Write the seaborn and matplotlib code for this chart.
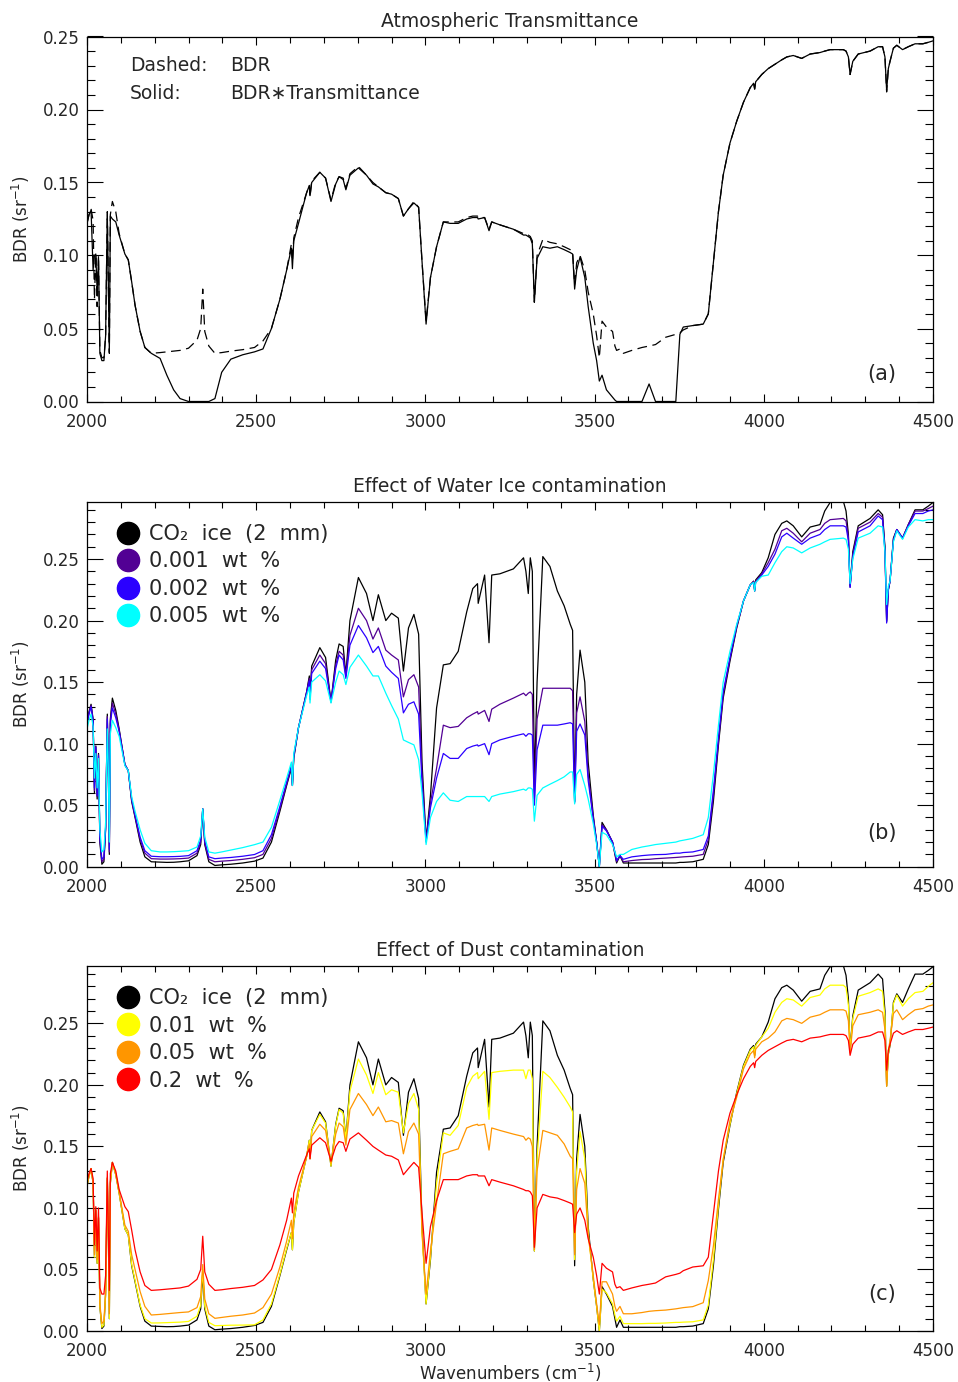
import matplotlib
matplotlib.use("Agg")
import matplotlib.pyplot as plt
import seaborn as sns
from matplotlib.lines import Line2D
from matplotlib.ticker import MultipleLocator, FormatStrFormatter

# ---------------- data ----------------
wavenumber = [
    2000, 2006, 2012, 2018, 2022, 2026, 2030, 2034, 2038, 2044,
    2050, 2055, 2060, 2063, 2066, 2069, 2075, 2085, 2095, 2112,
    2122, 2132, 2142, 2157, 2171, 2190, 2216, 2236, 2256, 2275,
    2300, 2325, 2336, 2342, 2348, 2360, 2378, 2398, 2425, 2460,
    2495, 2520, 2545, 2570, 2590, 2604, 2607, 2611, 2625, 2649,
    2657, 2659, 2664, 2688, 2705, 2721, 2735, 2745, 2757, 2765,
    2777, 2802, 2826, 2845, 2861, 2883, 2900, 2920, 2935, 2950,
    2966, 2980, 2990, 3002, 3015, 3033, 3053, 3073, 3097, 3122,
    3140, 3154, 3156, 3175, 3188, 3196, 3220, 3260, 3290, 3297,
    3304, 3310, 3316, 3322, 3330, 3347, 3368, 3390, 3410, 3428,
    3435, 3441, 3447, 3457, 3471, 3481, 3496, 3506, 3514, 3522,
    3535, 3553, 3560, 3565, 3575, 3585, 3610, 3640, 3661, 3680,
    3710, 3740, 3752, 3762, 3790, 3821, 3836, 3851, 3866, 3880,
    3900, 3920, 3940, 3960, 3970, 3973, 3976, 3994, 4013, 4033,
    4053, 4068, 4087, 4112, 4137, 4166, 4180, 4196, 4235, 4243,
    4250, 4255, 4263, 4279, 4314, 4338, 4351, 4358, 4363, 4368,
    4373, 4383, 4393, 4410, 4427, 4447, 4470, 4486, 4500]

co2_ice = [
    0.118, 0.126, 0.132, 0.120, 0.060, 0.098, 0.055, 0.092, 0.020, 0.002,
    0.004, 0.030, 0.124, 0.080, 0.010, 0.120, 0.137, 0.127, 0.112, 0.083,
    0.078, 0.053, 0.040, 0.020, 0.008, 0.004, 0.0037, 0.0035, 0.0036, 0.004,
    0.0048, 0.009, 0.018, 0.047, 0.018, 0.004, 0.001, 0.0015, 0.002, 0.003,
    0.0045, 0.007, 0.020, 0.045, 0.066, 0.080, 0.066, 0.088, 0.113, 0.142,
    0.155, 0.140, 0.163, 0.178, 0.170, 0.134, 0.168, 0.181, 0.179, 0.156,
    0.200, 0.235, 0.222, 0.200, 0.221, 0.200, 0.206, 0.202, 0.159, 0.194,
    0.205, 0.189, 0.085, 0.022, 0.058, 0.129, 0.164, 0.165, 0.175, 0.207,
    0.226, 0.230, 0.214, 0.237, 0.182, 0.237, 0.238, 0.242, 0.251, 0.240,
    0.222, 0.251, 0.240, 0.065, 0.150, 0.252, 0.244, 0.224, 0.212, 0.197,
    0.192, 0.053, 0.140, 0.176, 0.150, 0.085, 0.042, 0.020, 0.000, 0.036,
    0.030, 0.020, 0.010, 0.003, 0.009, 0.003, 0.003, 0.003, 0.003, 0.003,
    0.003, 0.003, 0.0035, 0.0035, 0.004, 0.006, 0.018, 0.053, 0.099, 0.137,
    0.167, 0.194, 0.216, 0.229, 0.232, 0.224, 0.233, 0.239, 0.251, 0.270,
    0.279, 0.281, 0.277, 0.268, 0.276, 0.278, 0.289, 0.296, 0.297, 0.289,
    0.270, 0.228, 0.256, 0.277, 0.283, 0.290, 0.286, 0.260, 0.199, 0.225,
    0.232, 0.267, 0.274, 0.267, 0.278, 0.290, 0.290, 0.293, 0.296]

water_0001 = [
    0.117, 0.125, 0.131, 0.119, 0.062, 0.098, 0.057, 0.091, 0.022, 0.004,
    0.006, 0.031, 0.122, 0.080, 0.012, 0.118, 0.133, 0.124, 0.111, 0.083,
    0.078, 0.054, 0.041, 0.022, 0.011, 0.0065, 0.0062, 0.0062, 0.0063, 0.0065,
    0.0070, 0.011, 0.020, 0.047, 0.019, 0.006, 0.004, 0.0045, 0.005, 0.006,
    0.0073, 0.010, 0.023, 0.047, 0.067, 0.081, 0.066, 0.089, 0.113, 0.142,
    0.153, 0.138, 0.160, 0.172, 0.165, 0.134, 0.164, 0.175, 0.172, 0.155,
    0.188, 0.210, 0.200, 0.185, 0.194, 0.176, 0.172, 0.168, 0.138, 0.152,
    0.156, 0.146, 0.075, 0.021, 0.052, 0.080, 0.115, 0.113, 0.114, 0.121,
    0.124, 0.126, 0.124, 0.127, 0.118, 0.128, 0.132, 0.137, 0.141, 0.139,
    0.141, 0.142, 0.140, 0.055, 0.120, 0.145, 0.145, 0.145, 0.145, 0.145,
    0.143, 0.053, 0.125, 0.138, 0.118, 0.075, 0.040, 0.020, 0.000, 0.034,
    0.030, 0.020, 0.011, 0.004, 0.009, 0.004, 0.005, 0.0058, 0.006, 0.0065,
    0.007, 0.0075, 0.0078, 0.008, 0.0085, 0.010, 0.022, 0.058, 0.102, 0.140,
    0.169, 0.195, 0.216, 0.229, 0.232, 0.225, 0.232, 0.238, 0.247, 0.258,
    0.273, 0.275, 0.271, 0.264, 0.271, 0.274, 0.279, 0.282, 0.283, 0.281,
    0.268, 0.227, 0.254, 0.275, 0.280, 0.287, 0.284, 0.258, 0.200, 0.225,
    0.232, 0.266, 0.274, 0.267, 0.278, 0.289, 0.289, 0.291, 0.293]

water_0002 = [
    0.116, 0.124, 0.130, 0.118, 0.064, 0.097, 0.058, 0.090, 0.024, 0.006,
    0.008, 0.032, 0.120, 0.080, 0.014, 0.116, 0.129, 0.121, 0.110, 0.083,
    0.078, 0.055, 0.042, 0.024, 0.013, 0.0085, 0.0081, 0.0081, 0.0082, 0.0084,
    0.009, 0.013, 0.022, 0.047, 0.021, 0.008, 0.0065, 0.007, 0.0075, 0.0085,
    0.0099, 0.013, 0.026, 0.049, 0.069, 0.082, 0.066, 0.090, 0.113, 0.141,
    0.151, 0.136, 0.157, 0.167, 0.161, 0.134, 0.161, 0.172, 0.168, 0.153,
    0.180, 0.196, 0.186, 0.174, 0.179, 0.163, 0.158, 0.153, 0.125, 0.132,
    0.134, 0.124, 0.068, 0.020, 0.048, 0.072, 0.092, 0.088, 0.088, 0.096,
    0.098, 0.099, 0.098, 0.100, 0.091, 0.100, 0.103, 0.106, 0.108, 0.106,
    0.108, 0.108, 0.107, 0.050, 0.095, 0.115, 0.115, 0.115, 0.116, 0.117,
    0.116, 0.052, 0.110, 0.116, 0.107, 0.070, 0.039, 0.020, 0.000, 0.033,
    0.029, 0.020, 0.012, 0.005, 0.009, 0.006, 0.008, 0.009, 0.0095, 0.0098,
    0.010, 0.011, 0.011, 0.0115, 0.012, 0.014, 0.025, 0.062, 0.105, 0.142,
    0.170, 0.196, 0.216, 0.229, 0.231, 0.224, 0.231, 0.237, 0.244, 0.254,
    0.268, 0.271, 0.267, 0.262, 0.267, 0.270, 0.274, 0.277, 0.277, 0.276,
    0.265, 0.227, 0.252, 0.272, 0.277, 0.285, 0.282, 0.256, 0.198, 0.225,
    0.232, 0.265, 0.274, 0.267, 0.277, 0.287, 0.287, 0.289, 0.290]

water_0005 = [
    0.112, 0.119, 0.124, 0.114, 0.072, 0.092, 0.064, 0.088, 0.030, 0.012,
    0.014, 0.036, 0.112, 0.080, 0.020, 0.108, 0.119, 0.113, 0.106, 0.082,
    0.078, 0.057, 0.045, 0.030, 0.019, 0.013, 0.012, 0.012, 0.0122, 0.0125,
    0.013, 0.016, 0.025, 0.047, 0.024, 0.012, 0.011, 0.012, 0.0135, 0.0155,
    0.0179, 0.020, 0.032, 0.054, 0.072, 0.085, 0.066, 0.092, 0.113, 0.139,
    0.146, 0.133, 0.150, 0.156, 0.151, 0.133, 0.150, 0.159, 0.156, 0.148,
    0.162, 0.172, 0.163, 0.155, 0.155, 0.141, 0.131, 0.120, 0.103, 0.101,
    0.099, 0.087, 0.060, 0.018, 0.040, 0.053, 0.060, 0.054, 0.053, 0.057,
    0.057, 0.057, 0.057, 0.057, 0.053, 0.057, 0.059, 0.061, 0.063, 0.062,
    0.064, 0.064, 0.063, 0.037, 0.058, 0.064, 0.067, 0.070, 0.073, 0.077,
    0.077, 0.051, 0.075, 0.079, 0.066, 0.055, 0.035, 0.018, 0.000, 0.028,
    0.026, 0.018, 0.012, 0.008, 0.010, 0.010, 0.014, 0.016, 0.017, 0.018,
    0.019, 0.020, 0.021, 0.0215, 0.023, 0.026, 0.040, 0.075, 0.115, 0.150,
    0.175, 0.197, 0.216, 0.229, 0.231, 0.224, 0.231, 0.236, 0.237, 0.247,
    0.256, 0.260, 0.259, 0.255, 0.259, 0.262, 0.264, 0.266, 0.267, 0.266,
    0.258, 0.230, 0.250, 0.267, 0.271, 0.277, 0.276, 0.256, 0.213, 0.228,
    0.232, 0.264, 0.273, 0.266, 0.276, 0.282, 0.281, 0.282, 0.282]

dust_001 = [
    0.118, 0.126, 0.132, 0.120, 0.060, 0.098, 0.055, 0.092, 0.020, 0.003,
    0.005, 0.030, 0.124, 0.080, 0.010, 0.120, 0.137, 0.127, 0.112, 0.083,
    0.078, 0.054, 0.041, 0.021, 0.010, 0.0065, 0.0066, 0.0068, 0.007, 0.0072,
    0.0078, 0.012, 0.021, 0.050, 0.020, 0.007, 0.0043, 0.0045, 0.0047, 0.0048,
    0.005, 0.009, 0.022, 0.046, 0.067, 0.080, 0.066, 0.088, 0.113, 0.142,
    0.155, 0.140, 0.163, 0.176, 0.169, 0.134, 0.167, 0.180, 0.177, 0.156,
    0.195, 0.221, 0.208, 0.193, 0.210, 0.192, 0.196, 0.194, 0.161, 0.185,
    0.193, 0.180, 0.080, 0.022, 0.060, 0.120, 0.161, 0.159, 0.167, 0.198,
    0.207, 0.210, 0.205, 0.211, 0.172, 0.210, 0.211, 0.212, 0.212, 0.205,
    0.212, 0.212, 0.205, 0.065, 0.140, 0.211, 0.206, 0.198, 0.190, 0.182,
    0.178, 0.058, 0.130, 0.162, 0.140, 0.080, 0.042, 0.020, 0.000, 0.034,
    0.031, 0.022, 0.013, 0.008, 0.012, 0.006, 0.006, 0.006, 0.0062, 0.0062,
    0.0065, 0.007, 0.007, 0.0072, 0.0075, 0.009, 0.021, 0.058, 0.102, 0.140,
    0.168, 0.193, 0.215, 0.228, 0.231, 0.224, 0.232, 0.239, 0.246, 0.259,
    0.267, 0.270, 0.269, 0.264, 0.271, 0.273, 0.278, 0.281, 0.281, 0.279,
    0.265, 0.228, 0.254, 0.272, 0.275, 0.278, 0.276, 0.255, 0.199, 0.225,
    0.233, 0.266, 0.273, 0.264, 0.270, 0.275, 0.276, 0.280, 0.283]

dust_005 = [
    0.118, 0.126, 0.132, 0.121, 0.062, 0.098, 0.058, 0.093, 0.022, 0.006,
    0.008, 0.033, 0.125, 0.080, 0.014, 0.122, 0.137, 0.128, 0.113, 0.086,
    0.081, 0.062, 0.050, 0.032, 0.020, 0.013, 0.0135, 0.014, 0.0145, 0.015,
    0.0155, 0.019, 0.028, 0.054, 0.026, 0.014, 0.0103, 0.011, 0.012, 0.013,
    0.0146, 0.019, 0.030, 0.052, 0.073, 0.090, 0.075, 0.096, 0.117, 0.142,
    0.152, 0.140, 0.158, 0.168, 0.163, 0.136, 0.160, 0.169, 0.166, 0.151,
    0.180, 0.193, 0.184, 0.175, 0.182, 0.170, 0.171, 0.169, 0.144, 0.162,
    0.169, 0.160, 0.080, 0.030, 0.065, 0.104, 0.144, 0.146, 0.148, 0.165,
    0.167, 0.168, 0.167, 0.168, 0.147, 0.165, 0.163, 0.160, 0.158, 0.155,
    0.157, 0.156, 0.150, 0.066, 0.130, 0.163, 0.161, 0.159, 0.152, 0.142,
    0.140, 0.062, 0.115, 0.132, 0.120, 0.078, 0.045, 0.022, 0.005, 0.040,
    0.040, 0.030, 0.020, 0.016, 0.020, 0.014, 0.014, 0.015, 0.016, 0.0165,
    0.017, 0.018, 0.0185, 0.019, 0.0198, 0.023, 0.041, 0.069, 0.107, 0.139,
    0.171, 0.190, 0.213, 0.225, 0.228, 0.222, 0.229, 0.235, 0.238, 0.243,
    0.252, 0.254, 0.253, 0.250, 0.255, 0.257, 0.259, 0.261, 0.261, 0.260,
    0.252, 0.226, 0.248, 0.257, 0.259, 0.261, 0.259, 0.245, 0.199, 0.228,
    0.236, 0.258, 0.261, 0.253, 0.257, 0.261, 0.262, 0.264, 0.265]

dust_02 = [
    0.122, 0.128, 0.132, 0.124, 0.070, 0.101, 0.065, 0.100, 0.035, 0.030,
    0.030, 0.045, 0.130, 0.080, 0.033, 0.128, 0.137, 0.130, 0.115, 0.101,
    0.097, 0.082, 0.066, 0.048, 0.037, 0.033, 0.0335, 0.034, 0.0345, 0.035,
    0.0365, 0.042, 0.050, 0.077, 0.048, 0.038, 0.033, 0.0335, 0.0345, 0.0355,
    0.037, 0.0415, 0.050, 0.070, 0.090, 0.108, 0.096, 0.112, 0.126, 0.143,
    0.148, 0.140, 0.151, 0.157, 0.153, 0.138, 0.150, 0.154, 0.153, 0.146,
    0.156, 0.161, 0.155, 0.150, 0.147, 0.143, 0.142, 0.139, 0.127, 0.132,
    0.137, 0.133, 0.096, 0.055, 0.085, 0.106, 0.123, 0.123, 0.123, 0.126,
    0.127, 0.127, 0.126, 0.126, 0.118, 0.123, 0.121, 0.118, 0.115, 0.114,
    0.114, 0.113, 0.110, 0.068, 0.100, 0.111, 0.109, 0.108, 0.106, 0.104,
    0.103, 0.080, 0.095, 0.100, 0.090, 0.075, 0.060, 0.045, 0.030, 0.055,
    0.051, 0.048, 0.038, 0.035, 0.036, 0.033, 0.035, 0.037, 0.038, 0.039,
    0.044, 0.046, 0.047, 0.049, 0.052, 0.053, 0.060, 0.095, 0.130, 0.155,
    0.177, 0.192, 0.205, 0.215, 0.218, 0.214, 0.219, 0.224, 0.228, 0.231,
    0.234, 0.236, 0.237, 0.235, 0.238, 0.239, 0.240, 0.241, 0.241, 0.240,
    0.236, 0.224, 0.233, 0.238, 0.240, 0.243, 0.243, 0.236, 0.212, 0.228,
    0.233, 0.242, 0.244, 0.241, 0.243, 0.245, 0.245, 0.246, 0.247]

# BDR * atmospheric transmittance (solid line of panel a)
bdr_x_trans = [
    0.122, 0.128, 0.131, 0.090, 0.100, 0.101, 0.075, 0.098, 0.033, 0.028,
    0.028, 0.045, 0.129, 0.080, 0.034, 0.127, 0.125, 0.123, 0.114, 0.101,
    0.097, 0.082, 0.066, 0.048, 0.037, 0.033, 0.0295, 0.018, 0.008, 0.002,
    0.0, 0.0, 0.0, 0.0, 0.0, 0.0, 0.002, 0.020, 0.029, 0.032,
    0.034, 0.036, 0.050, 0.070, 0.090, 0.105, 0.091, 0.110, 0.122, 0.143,
    0.148, 0.141, 0.150, 0.157, 0.153, 0.137, 0.149, 0.154, 0.152, 0.145,
    0.155, 0.160, 0.155, 0.149, 0.147, 0.143, 0.142, 0.139, 0.127, 0.132,
    0.136, 0.133, 0.096, 0.053, 0.085, 0.106, 0.123, 0.122, 0.122, 0.125,
    0.126, 0.126, 0.125, 0.126, 0.117, 0.123, 0.121, 0.118, 0.114, 0.114,
    0.113, 0.112, 0.108, 0.068, 0.098, 0.106, 0.105, 0.106, 0.104, 0.102,
    0.101, 0.077, 0.090, 0.099, 0.085, 0.065, 0.040, 0.028, 0.014, 0.018,
    0.008, 0.003, 0.001, 0.0, 0.0, 0.0, 0.0, 0.0, 0.012, 0.0,
    0.0, 0.0, 0.046, 0.051, 0.052, 0.053, 0.060, 0.095, 0.130, 0.155,
    0.177, 0.192, 0.205, 0.215, 0.218, 0.214, 0.219, 0.224, 0.228, 0.231,
    0.234, 0.236, 0.237, 0.235, 0.238, 0.239, 0.240, 0.241, 0.241, 0.240,
    0.236, 0.224, 0.233, 0.238, 0.240, 0.243, 0.243, 0.236, 0.213, 0.228,
    0.233, 0.242, 0.244, 0.241, 0.243, 0.245, 0.245, 0.246, 0.247]

water_labels = ["CO\u2082  ice  (2  mm)", "0.001  wt  %", "0.002  wt  %", "0.005  wt  %"]
dust_labels = ["CO\u2082  ice  (2  mm)", "0.01  wt  %", "0.05  wt  %", "0.2  wt  %"]
titles = ["Atmospheric Transmittance", "Effect of Water Ice contamination",
          "Effect of Dust contamination"]
panel_tags = ["(a)", "(b)", "(c)"]

water_colors = ["#000000", "#520094", "#2A00FF", "#00FFFF"]
dust_colors = ["#000000", "#FFFF00", "#FF9600", "#FF0000"]

for s in [co2_ice, water_0001, water_0002, water_0005, dust_001, dust_005, dust_02, bdr_x_trans]:
    assert len(s) == len(wavenumber), len(s)

# ---------------- figure ----------------
sns.set_style("white")
plt.rcParams["font.family"] = ["DejaVu Sans"]
plt.rcParams["lines.scale_dashes"] = False

W, H = 958, 1382
fig = plt.figure(figsize=(W / 100, H / 100), dpi=100)

left = 87 / W
width = 846 / W
hgt = 365 / H
bottoms = [1 - 401.5 / H, 1 - 866.7 / H, 1 - 1331 / H]
ytops = [0.25, 0.2966, 0.2966]

axes = [fig.add_axes([left, b, width, hgt]) for b in bottoms]


def style(ax, ytop, title, tag, tag_y):
    ax.set_xlim(2000, 4500)
    ax.set_ylim(0, ytop)
    ax.xaxis.set_major_locator(MultipleLocator(500))
    ax.xaxis.set_minor_locator(MultipleLocator(100))
    ax.yaxis.set_major_locator(MultipleLocator(0.05))
    ax.yaxis.set_minor_locator(MultipleLocator(0.01))
    ax.yaxis.set_major_formatter(FormatStrFormatter("%.2f"))
    ax.tick_params(which="both", direction="in", top=True, right=True,
                   bottom=True, left=True, color="black")
    ax.tick_params(axis="x", which="major", length=6, width=0.8, pad=8, labelsize=12)
    ax.tick_params(axis="x", which="minor", length=4, width=0.8)
    ax.tick_params(axis="y", which="major", length=11.5, width=0.8, pad=5, labelsize=12)
    ax.tick_params(axis="y", which="minor", length=6, width=0.8)
    for sp in ax.spines.values():
        sp.set_linewidth(0.9)
        sp.set_color("black")
    ax.set_title(title, fontsize=13.5, pad=7)
    ax.set_ylabel("BDR (sr$^{-1}$)", fontsize=12)
    ax.yaxis.set_label_coords(-0.065, 0.5)
    ax.set_xlabel("")
    ax.text(0.94, tag_y, tag, transform=ax.transAxes, fontsize=15,
            ha="center", va="center")


# Panel (a)
ax = axes[0]
sns.lineplot(x=wavenumber, y=dust_02, ax=ax, color="black", linewidth=0.9,
             estimator=None, sort=False, legend=False)
ax.lines[-1].set_dashes([7, 4])
sns.lineplot(x=wavenumber, y=bdr_x_trans, ax=ax, color="black", linewidth=0.9,
             estimator=None, sort=False, legend=False)
style(ax, ytops[0], titles[0], panel_tags[0], 0.075)
ax.text(0.0508, 0.92, "Dashed:", transform=ax.transAxes, fontsize=13.5, va="center")
ax.text(0.169, 0.92, "BDR", transform=ax.transAxes, fontsize=13.5, va="center")
ax.text(0.0508, 0.843, "Solid:", transform=ax.transAxes, fontsize=13.5, va="center")
ax.text(0.169, 0.843, "BDR\u2217Transmittance", transform=ax.transAxes, fontsize=13.5,
        va="center")

# Panel (b)
ax = axes[1]
for vals, col in zip([co2_ice, water_0001, water_0002, water_0005], water_colors):
    sns.lineplot(x=wavenumber, y=vals, ax=ax, color=col, linewidth=0.9,
                 estimator=None, sort=False, legend=False)
style(ax, ytops[1], titles[1], panel_tags[1], 0.092)

# Panel (c)
ax = axes[2]
for vals, col in zip([co2_ice, dust_001, dust_005, dust_02], dust_colors):
    sns.lineplot(x=wavenumber, y=vals, ax=ax, color=col, linewidth=0.9,
                 estimator=None, sort=False, legend=False)
style(ax, ytops[2], titles[2], panel_tags[2], 0.101)
ax.set_xlabel("Wavenumbers (cm$^{-1}$)", fontsize=12)
ax.xaxis.set_label_coords(0.5, -0.085)


def add_legend(ax, labels, colors):
    handles = [Line2D([], [], marker="o", linestyle="none", markersize=16,
                      markerfacecolor=c, markeredgecolor=c, label=l)
               for l, c in zip(labels, colors)]
    ax.legend(handles=handles, loc="upper left", bbox_to_anchor=(0.0366, 0.939),
              frameon=False, fontsize=15, handletextpad=0.5, labelspacing=0.36,
              borderaxespad=0, borderpad=0, handlelength=1.0)


add_legend(axes[1], water_labels, water_colors)
add_legend(axes[2], dust_labels, dust_colors)

fig.savefig("out.png", dpi=100)
